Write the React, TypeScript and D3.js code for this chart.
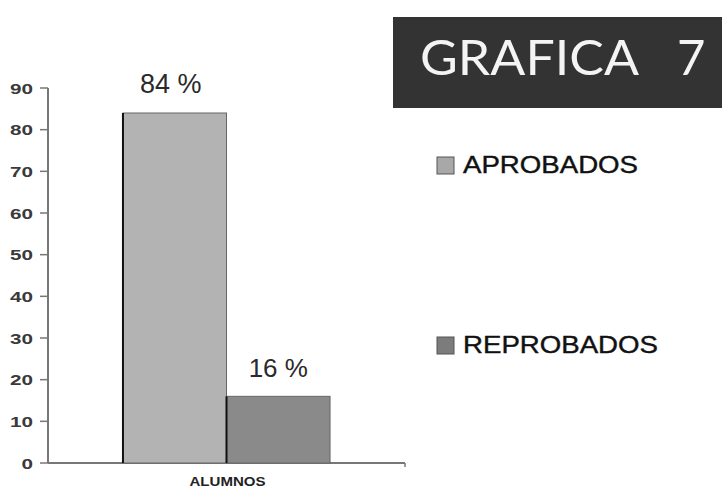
import React from "react";
import * as d3 from "d3";

const categories = ["ALUMNOS"];
const series = ["APROBADOS", "REPROBADOS"];
const values = [84, 16];
const valueLabels = ["84 %", "16 %"];
const yTicks = [0, 10, 20, 30, 40, 50, 60, 70, 80, 90];
const seriesColors = ["#b3b3b3", "#8a8a8a"];
const legendColors = ["#a8a8a8", "#7c7c7c"];
const title = "GRAFICA";
const titleNumber = "7";

export default function App() {
  const W = 722, H = 490;
  const axisLeft = 48, axisRight = 405, y0 = 463, yTop = 88;
  const y = d3.scaleLinear().domain([0, 90]).range([y0, yTop]);
  const x = d3.scaleBand().domain(categories).range([axisLeft, axisRight]).paddingInner(0).paddingOuter(0.362);
  const xs = d3.scaleBand().domain(series).range([0, x.bandwidth()]).padding(0);
  const legendY = [166, 346];
  const font = "'Liberation Sans', Arial, sans-serif";

  return (
    <svg width={W} height={H} style={{ position: "absolute", left: 0, top: 0, display: "block", background: "#fff" }}>
      <rect x={0} y={0} width={W} height={H} fill="#fff" />
      {/* Title box */}
      <rect x={393} y={17} width={329} height={91} fill="#333333" />
      <text x={420} y={75} fill="#f4f4f4" fontFamily="Lato, 'Noto Sans', sans-serif" fontSize={49} fontWeight={400}>
        <tspan textLength={219} lengthAdjust="spacingAndGlyphs">{title}</tspan>
        <tspan x={677}>{titleNumber}</tspan>
      </text>

      {/* Y axis */}
      <line x1={axisLeft} x2={axisLeft} y1={y(90)} y2={y0} stroke="#777" strokeWidth={2} />
      {yTicks.map((t) => (
        <g key={t}>
          <line x1={axisLeft - 8} x2={axisLeft} y1={y(t)} y2={y(t)} stroke="#777" strokeWidth={1.5} />
          <text x={33} y={y(t) + 5.5} textAnchor="end" fontFamily={font} fontSize={15} fontWeight={700} fill="#3a3a3a"
            textLength={String(t).length * 11.5} lengthAdjust="spacingAndGlyphs">{t}</text>
        </g>
      ))}

      {/* X axis */}
      <line x1={axisLeft} x2={axisRight} y1={y0} y2={y0} stroke="#777" strokeWidth={2} />
      <line x1={axisRight} x2={axisRight} y1={y0} y2={y0 + 4} stroke="#777" strokeWidth={1.5} />
      {categories.map((c) => (
        <text key={c} x={(x(c) as number) + x.bandwidth() / 2 + 1} y={486} textAnchor="middle" fontFamily={font}
          fontSize={12} fontWeight={700} fill="#222" textLength={76} lengthAdjust="spacingAndGlyphs">{c}</text>
      ))}

      {/* Bars */}
      {categories.map((c) =>
        series.map((s, i) => {
          const bx = (x(c) as number) + (xs(s) as number);
          const bw = xs.bandwidth();
          const by = y(values[i]);
          return (
            <g key={s}>
              <rect x={bx} y={by} width={bw} height={y0 - by} fill={seriesColors[i]} stroke="#666" strokeWidth={1} />
              <line x1={bx} x2={bx} y1={by} y2={y0} stroke="#111" strokeWidth={2} />
              <text x={bx + bw / 2 - (i === 0 ? 4 : 0)} y={by - (i === 0 ? 20 : 19)} textAnchor="middle" fontFamily={font}
                fontSize={i === 0 ? 27 : 26} fill="#2a2a2a">{valueLabels[i]}</text>
            </g>
          );
        })
      )}

      {/* Legend */}
      {series.map((s, i) => (
        <g key={s}>
          <rect x={437} y={legendY[i] - 9} width={17} height={17} fill={legendColors[i]} stroke="#555" strokeWidth={1} />
          <text x={463} y={legendY[i] + 7} fontFamily={font} fontSize={24} fill="#111"
            stroke="#111" strokeWidth={0.4}
            textLength={i === 0 ? 175 : 195} lengthAdjust="spacingAndGlyphs">{s}</text>
        </g>
      ))}
    </svg>
  );
}
